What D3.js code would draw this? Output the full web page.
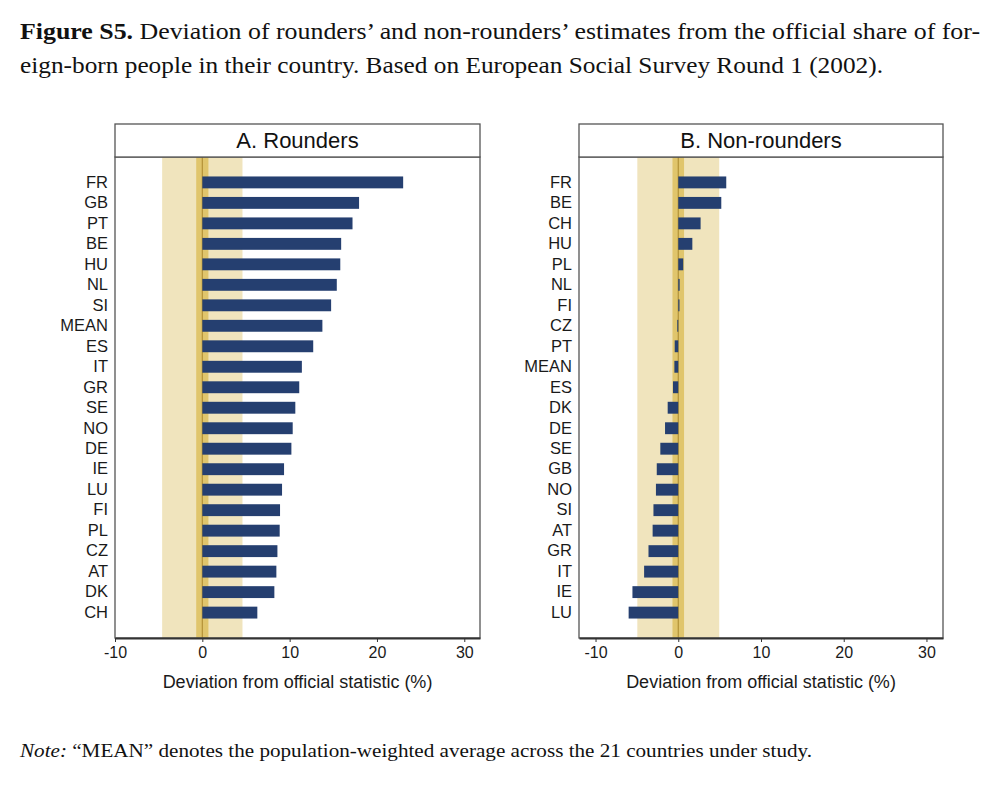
<!DOCTYPE html>
<html>
<head>
<meta charset="utf-8">
<script src="https://cdn.jsdelivr.net/npm/d3@7"></script>
<style>
  body { margin: 0; background: #fff; }
  svg { display: block; }
</style>
</head>
<body>
<div id="chart"></div>
<script>
// Country order and deviation values (%) for each panel
const roundersCountries = ["FR", "GB", "PT", "BE", "HU", "NL", "SI", "MEAN", "ES", "IT", "GR",
  "SE", "NO", "DE", "IE", "LU", "FI", "PL", "CZ", "AT", "DK", "CH"];
const roundersValues = [23.0, 17.95, 17.2, 15.9, 15.8, 15.4, 14.75, 13.75, 12.7, 11.4, 11.1,
  10.65, 10.35, 10.2, 9.36, 9.13, 8.9, 8.86, 8.6, 8.48, 8.25, 6.3];

const nonRoundersCountries = ["FR", "BE", "CH", "HU", "PL", "NL", "FI", "CZ", "PT", "MEAN", "ES",
  "DK", "DE", "SE", "GB", "NO", "SI", "AT", "GR", "IT", "IE", "LU"];
const nonRoundersValues = [5.8, 5.2, 2.7, 1.7, 0.6, 0.17, 0.15, -0.12, -0.43, -0.47, -0.64,
  -1.28, -1.6, -2.17, -2.6, -2.7, -3.0, -3.1, -3.6, -4.13, -5.54, -6.0];

// Shaded reference bands around zero (outer and inner half-widths)
const roundersBand = [4.6, 0.7];
const nonRoundersBand = [4.95, 0.7];

const xTicks = [-10, 0, 10, 20, 30];

const width = 1000;
const height = 800;
const serif = "'Liberation Serif', 'Times New Roman', serif";
const sans = "'Liberation Sans', Arial, sans-serif";

const svg = d3.select("#chart")
  .append("svg")
  .attr("width", width)
  .attr("height", height);

// Caption at the top (line 1 justified to the right margin)
const caption1 = svg.append("text")
  .attr("x", 20)
  .attr("y", 39)
  .attr("textLength", 960)
  .attr("lengthAdjust", "spacingAndGlyphs")
  .style("font-family", serif)
  .style("font-size", "23px")
  .attr("fill", "#111");
caption1.append("tspan").style("font-weight", "bold").text("Figure S5.");
caption1.append("tspan").text(" Deviation of rounders\u2019 and non-rounders\u2019 estimates from the official share of for-");

svg.append("text")
  .attr("x", 20)
  .attr("y", 73)
  .attr("textLength", 863)
  .attr("lengthAdjust", "spacingAndGlyphs")
  .style("font-family", serif)
  .style("font-size", "23px")
  .attr("fill", "#111")
  .text("eign-born people in their country. Based on European Social Survey Round 1 (2002).");

// Note at the bottom
const note = svg.append("text")
  .attr("x", 20)
  .attr("y", 757)
  .attr("textLength", 792)
  .attr("lengthAdjust", "spacingAndGlyphs")
  .style("font-family", serif)
  .style("font-size", "19px")
  .attr("fill", "#111");
note.append("tspan").style("font-style", "italic").text("Note:");
note.append("tspan").text(" \u201CMEAN\u201D denotes the population-weighted average across the 21 countries under study.");

function drawPanel(opts) {
  const left = opts.left, right = opts.right;
  const top = 124, stripBottom = 157, bottom = 638;

  const x = d3.scaleLinear()
    .domain(opts.domain)
    .range([left, right]);

  const y = d3.scaleBand()
    .domain(opts.countries)
    .range([stripBottom, bottom])
    .paddingInner(0.42)
    .paddingOuter(0.95);

  const g = svg.append("g");

  // outer band, inner band, zero line
  g.append("rect")
    .attr("x", x(-opts.band[0]))
    .attr("y", stripBottom)
    .attr("width", x(opts.band[0]) - x(-opts.band[0]))
    .attr("height", bottom - stripBottom)
    .attr("fill", "#f0e4bd");

  g.append("rect")
    .attr("x", x(-opts.band[1]))
    .attr("y", stripBottom)
    .attr("width", x(opts.band[1]) - x(-opts.band[1]))
    .attr("height", bottom - stripBottom)
    .attr("fill", "#e0c56c");

  g.append("line")
    .attr("x1", x(0))
    .attr("x2", x(0))
    .attr("y1", stripBottom)
    .attr("y2", bottom)
    .attr("stroke", "#b39238")
    .attr("stroke-width", 1.2);

  // bars
  g.selectAll(".bar")
    .data(opts.countries.map((c, i) => ({ country: c, value: opts.values[i] })))
    .enter()
    .append("rect")
    .attr("class", "bar")
    .attr("x", d => x(Math.min(0, d.value)))
    .attr("y", d => y(d.country))
    .attr("width", d => Math.abs(x(d.value) - x(0)))
    .attr("height", y.bandwidth())
    .attr("fill", "#253f70");

  // country labels
  const yAxis = g.append("g")
    .attr("transform", `translate(${left},0)`)
    .call(d3.axisLeft(y).tickSize(0).tickPadding(7));
  yAxis.select(".domain").remove();
  yAxis.selectAll("text")
    .style("font-family", sans)
    .style("font-size", "16.5px")
    .attr("fill", "#1a1a1a");

  // plot frame
  g.append("rect")
    .attr("x", left)
    .attr("y", stripBottom)
    .attr("width", right - left)
    .attr("height", bottom - stripBottom)
    .attr("fill", "none")
    .attr("stroke", "#555")
    .attr("stroke-width", 1.3);

  // title strip
  g.append("rect")
    .attr("x", left)
    .attr("y", top)
    .attr("width", right - left)
    .attr("height", stripBottom - top)
    .attr("fill", "#fff")
    .attr("stroke", "#555")
    .attr("stroke-width", 1.3);

  g.append("text")
    .attr("x", (left + right) / 2)
    .attr("y", 148)
    .attr("text-anchor", "middle")
    .style("font-family", sans)
    .style("font-size", "22px")
    .attr("fill", "#111")
    .text(opts.title);

  // x axis
  const xAxis = g.append("g")
    .attr("transform", `translate(0,${bottom})`)
    .call(d3.axisBottom(x)
      .tickValues(xTicks)
      .tickFormat(d => String(d))
      .tickSize(4)
      .tickPadding(5)
      .tickSizeOuter(0));
  xAxis.select(".domain")
    .attr("stroke", "#333")
    .attr("stroke-width", 2);
  xAxis.selectAll(".tick line").attr("stroke", "#333");
  xAxis.selectAll("text")
    .style("font-family", sans)
    .style("font-size", "16px")
    .attr("fill", "#1a1a1a");

  g.append("text")
    .attr("x", (left + right) / 2)
    .attr("y", 688)
    .attr("text-anchor", "middle")
    .style("font-family", sans)
    .style("font-size", "18px")
    .attr("fill", "#1a1a1a")
    .text("Deviation from official statistic (%)");
}

drawPanel({
  title: "A. Rounders",
  left: 115, right: 480,
  domain: [-10, 31.8],
  countries: roundersCountries,
  values: roundersValues,
  band: roundersBand
});

drawPanel({
  title: "B. Non-rounders",
  left: 579, right: 943,
  domain: [-12, 32],
  countries: nonRoundersCountries,
  values: nonRoundersValues,
  band: nonRoundersBand
});
</script>
</body>
</html>
